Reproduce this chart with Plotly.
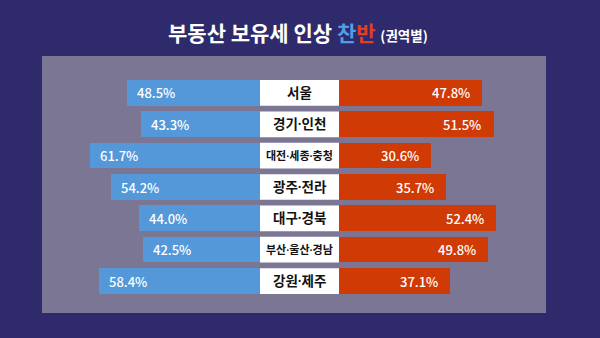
import plotly.graph_objects as go

# 부동산 보유세 인상 찬반 – 권역별 응답 비율 (%)
regions = ["서울", "경기·인천", "대전·세종·충청", "광주·전라", "대구·경북", "부산·울산·경남", "강원·제주"]
agree = [48.5, 43.3, 61.7, 54.2, 44.0, 42.5, 58.4]     # 찬성
disagree = [47.8, 51.5, 30.6, 35.7, 52.4, 49.8, 37.1]  # 반대

BG = "#2e2a6c"
PANEL = "#7c7695"
BLUE = "#5498d9"
RED = "#cf3a05"
FONT = "Noto Sans CJK KR"
LABEL_FONT = "Noto Sans, Noto Sans CJK KR"  # Latin font first keeps the middle dot narrow

W, H = 600, 338
LEFT_END = 260      # px where the blue bars end
RIGHT_START = 339   # px where the red bars start
ROW_TOP, ROW_BOTTOM = 77.3, 296.7

fig = go.Figure()

fig.add_bar(y=regions, x=agree, orientation="h", marker=dict(color=BLUE, line=dict(width=0)),
            width=0.82, xaxis="x", yaxis="y", hoverinfo="skip")
fig.add_bar(y=regions, x=disagree, orientation="h", marker=dict(color=RED, line=dict(width=0)),
            width=0.82, xaxis="x2", yaxis="y", hoverinfo="skip")

shapes = [
    dict(type="rect", xref="paper", yref="paper", x0=42 / W, x1=546 / W,
         y0=(H - 313) / H, y1=(H - 56) / H, fillcolor=PANEL,
         line=dict(width=0), layer="below"),
]
annotations = []

for i, (name, a, d) in enumerate(zip(regions, agree, disagree)):
    # white region label box between the two bars
    shapes.append(dict(type="rect", xref="paper", yref="y",
                       x0=LEFT_END / W, x1=RIGHT_START / W,
                       y0=i - 0.41, y1=i + 0.41, fillcolor="white",
                       line=dict(width=0), layer="above"))
    long_name = len(name) > 6
    annotations.append(dict(x=(LEFT_END + RIGHT_START) / 2 / W, xref="paper", y=name, yref="y",
                            text=name, showarrow=False, xanchor="center", yanchor="middle",
                            font=dict(family=LABEL_FONT, size=11 if long_name else 13.5,
                                      color="#111111", weight=600)))
    annotations.append(dict(x=a, xref="x", y=name, yref="y", text=f"{a:.1f}%",
                            showarrow=False, xanchor="left", yanchor="middle", xshift=8,
                            font=dict(family=FONT, size=13, color="white", weight=500)))
    annotations.append(dict(x=d, xref="x2", y=name, yref="y", text=f"{d:.1f}%",
                            showarrow=False, xanchor="right", yanchor="middle", xshift=-10,
                            font=dict(family=FONT, size=13, color="white", weight=500)))

annotations.append(dict(
    x=298 / W, xref="paper", y=(H - 32) / H, yref="paper", showarrow=False,
    xanchor="center", yanchor="middle",
    text=("<b>부동산 보유세 인상 <span style='color:#4f9fe6'>찬</span>"
          "<span style='color:#e2401a'>반</span> <span style='font-size:13.5px'>(권역별)</span></b>"),
    font=dict(family=FONT, size=21, color="white", weight=900),
))

fig.update_layout(
    width=W, height=H,
    margin=dict(l=0, r=0, t=0, b=0),
    paper_bgcolor=BG, plot_bgcolor="rgba(0,0,0,0)",
    showlegend=False, bargap=0,
    xaxis=dict(domain=[0, LEFT_END / W], range=[94.5, 0], visible=False, fixedrange=True),
    xaxis2=dict(domain=[RIGHT_START / W, 1], range=[0, 87], visible=False, anchor="y", fixedrange=True),
    yaxis=dict(domain=[(H - ROW_BOTTOM) / H, (H - ROW_TOP) / H], type="category",
               categoryorder="array", categoryarray=regions, range=[6.5, -0.5],
               visible=False, fixedrange=True),
    shapes=shapes,
    annotations=annotations,
)

fig.write_html("out.html")
